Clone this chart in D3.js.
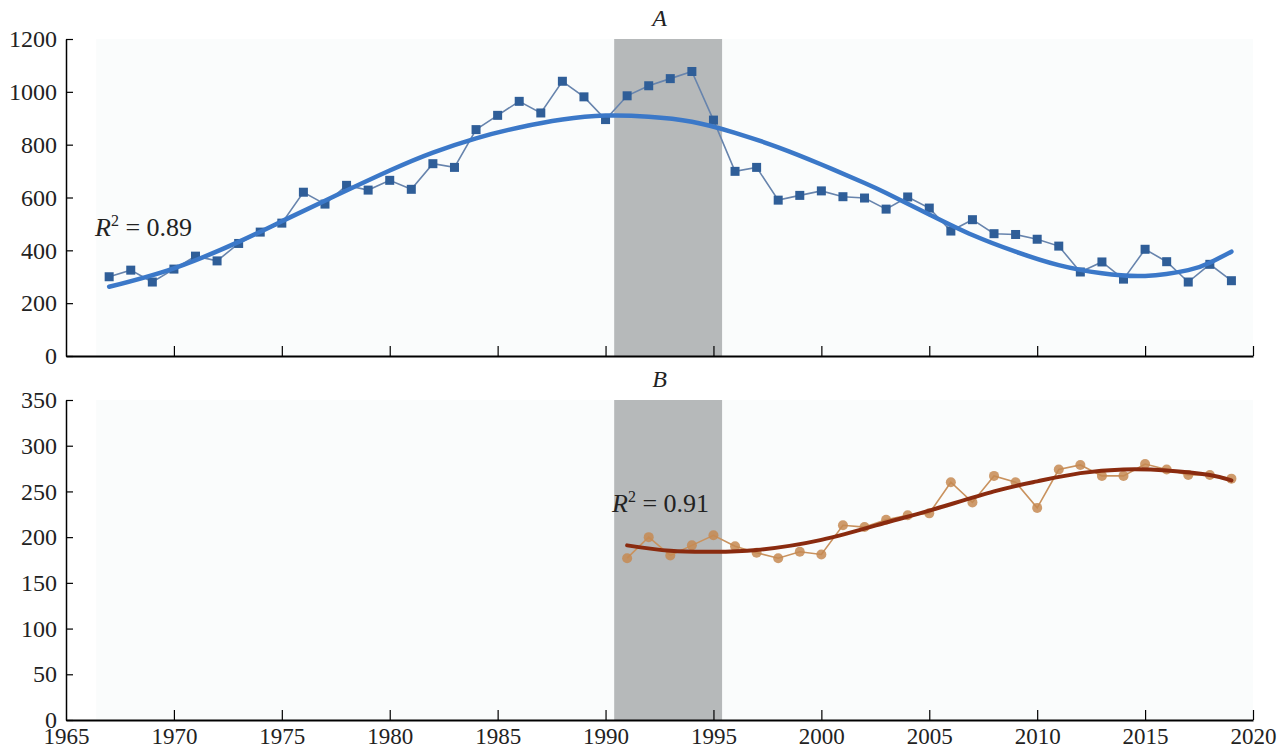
<!DOCTYPE html>
<html>
<head>
<meta charset="utf-8">
<script src="https://cdn.jsdelivr.net/npm/d3@7"></script>
<style>
  body { margin: 0; background: #fff; }
</style>
</head>
<body>
<div id="chart"></div>
<script>
// panel A: observed series, 1967-2019
const yearsA = [1967, 1968, 1969, 1970, 1971, 1972, 1973, 1974, 1975, 1976,
  1977, 1978, 1979, 1980, 1981, 1982, 1983, 1984, 1985, 1986,
  1987, 1988, 1989, 1990, 1991, 1992, 1993, 1994, 1995, 1996,
  1997, 1998, 1999, 2000, 2001, 2002, 2003, 2004, 2005, 2006,
  2007, 2008, 2009, 2010, 2011, 2012, 2013, 2014, 2015, 2016,
  2017, 2018, 2019];
const valuesA = [300, 325, 280, 329, 378, 360, 426, 469, 503, 620,
  575, 646, 628, 665, 631, 728, 714, 857, 911, 964,
  920, 1040, 981, 895, 985, 1023, 1050, 1077, 893, 699,
  714, 590, 608, 625, 603, 598, 556, 602, 560, 473,
  516, 463, 460, 442, 416, 318, 356, 291, 404, 357,
  280, 347, 285];
// panel A: fitted trend
const trendYearsA = [1967, 1970, 1973, 1975, 1977, 1980, 1982, 1984, 1986, 1988,
  1990, 1992, 1994, 1996, 1998, 2000, 2002, 2003, 2005, 2007,
  2009, 2011, 2013, 2015, 2017, 2018, 2019];
const trendA = [262, 332, 432, 510, 588, 702, 770, 824, 865, 895,
  910, 906, 887, 845, 790, 725, 655, 617, 536, 458,
  395, 344, 313, 303, 325, 353, 395];

// panel B: observed series, 1991-2019
const yearsB = [1991, 1992, 1993, 1994, 1995, 1996, 1997, 1998, 1999, 2000,
  2001, 2002, 2003, 2004, 2005, 2006, 2007, 2008, 2009, 2010,
  2011, 2012, 2013, 2014, 2015, 2016, 2017, 2018, 2019];
const valuesB = [177, 200, 180, 191, 202, 190, 183, 177, 184, 181,
  213, 211, 219, 224, 226, 260, 238, 267, 260, 232,
  274, 279, 267, 267, 280, 274, 268, 268, 264];
const trendYearsB = [1991, 1993, 1995, 1997, 2000, 2003, 2005, 2008, 2010, 2012,
  2014, 2016, 2018, 2019];
const trendB = [191, 185, 184, 186, 197, 216, 229, 250, 261, 270,
  274, 273, 268, 262];

const ticksA = [0, 200, 400, 600, 800, 1000, 1200];
const ticksB = [0, 50, 100, 150, 200, 250, 300, 350];
const yearTicks = [1965, 1970, 1975, 1980, 1985, 1990, 1995, 2000, 2005, 2010, 2015, 2020];
const shadeYears = [1990.4, 1995.4];

const width = 1288;
const height = 756;
const serif = '"Liberation Serif", "DejaVu Serif", serif';

const svg = d3.select('#chart')
  .append('svg')
  .attr('width', width)
  .attr('height', height)
  .style('font-family', serif);

const x = d3.scaleLinear().domain([1965, 2020]).range([66, 1253]);

const panels = [
  {
    title: 'A', top: 39, bottom: 356, max: 1200, ticks: ticksA,
    years: yearsA, values: valuesA, tYears: trendYearsA, trend: trendA,
    r2: '0.89', r2x: 95, r2y: 236, showYears: false
  },
  {
    title: 'B', top: 400, bottom: 720, max: 350, ticks: ticksB,
    years: yearsB, values: valuesB, tYears: trendYearsB, trend: trendB,
    r2: '0.91', r2x: 612, r2y: 512, showYears: true
  }
];

panels.forEach((p) => {
  const y = d3.scaleLinear().domain([0, p.max]).range([p.bottom, p.top]);
  const g = svg.append('g');

  // faint plot background
  g.append('rect')
    .attr('x', x(1966.4))
    .attr('y', p.top)
    .attr('width', x(2020) - x(1966.4))
    .attr('height', p.bottom - p.top)
    .style('fill', '#fafcfc');

  // shaded period
  g.append('rect')
    .attr('x', x(shadeYears[0]))
    .attr('y', p.top)
    .attr('width', x(shadeYears[1]) - x(shadeYears[0]))
    .attr('height', p.bottom - p.top)
    .style('fill', '#b6b9ba');

  // y axis
  const yAxis = g.append('g')
    .attr('transform', `translate(${x(1965)},0)`)
    .call(d3.axisLeft(y).tickValues(p.ticks).tickSizeInner(-7).tickSizeOuter(0)
      .tickPadding(9).tickFormat(d3.format('d')));
  yAxis.attr('font-family', serif).attr('font-size', 24);
  yAxis.select('.domain').style('stroke', '#000').style('stroke-width', 1.5);
  yAxis.selectAll('.tick line').style('stroke', '#000').style('stroke-width', 1.2);
  yAxis.selectAll('.tick text').style('fill', '#222');

  // x axis
  const xAxis = g.append('g')
    .attr('transform', `translate(0,${p.bottom})`)
    .call(d3.axisBottom(x).tickValues(yearTicks).tickSizeInner(-10).tickSizeOuter(0)
      .tickFormat(p.showYears ? d3.format('d') : () => '').tickPadding(8));
  xAxis.attr('font-family', serif).attr('font-size', 23);
  xAxis.select('.domain').style('stroke', '#000').style('stroke-width', 1.8);
  xAxis.selectAll('.tick line')
    .style('stroke', '#000')
    .style('stroke-width', 1.2)
    .style('display', (d) => (d === 1965 ? 'none' : null));
  xAxis.selectAll('.tick text').style('fill', '#222');

  // panel title
  svg.append('text')
    .attr('x', x(1992.5))
    .attr('y', p.top - 13)
    .attr('text-anchor', 'middle')
    .style('font-style', 'italic')
    .style('font-size', '24px')
    .style('fill', '#222')
    .text(p.title);

  const pts = p.years.map((yr, i) => [yr, p.values[i]]);
  const tpts = p.tYears.map((yr, i) => [yr, p.trend[i]]);
  const line = d3.line().x((d) => x(d[0])).y((d) => y(d[1]));
  const smooth = d3.line().x((d) => x(d[0])).y((d) => y(d[1])).curve(d3.curveNatural);

  if (p.title === 'A') {
    g.append('path')
      .attr('d', line(pts))
      .style('fill', 'none')
      .style('stroke', '#6784ad')
      .style('stroke-width', 1.6);
    g.selectAll('.sq')
      .data(pts)
      .enter()
      .append('rect')
      .attr('class', 'sq')
      .attr('x', (d) => x(d[0]) - 4.5)
      .attr('y', (d) => y(d[1]) - 4.5)
      .attr('width', 9)
      .attr('height', 9)
      .style('fill', '#2f5e98');
    g.append('path')
      .attr('d', smooth(tpts))
      .style('fill', 'none')
      .style('stroke', '#3b78c8')
      .style('stroke-width', 4.5)
      .style('stroke-linecap', 'round');
  } else {
    g.append('path')
      .attr('d', line(pts))
      .style('fill', 'none')
      .style('stroke', '#c9925e')
      .style('stroke-width', 1.6);
    g.selectAll('.dot')
      .data(pts)
      .enter()
      .append('circle')
      .attr('class', 'dot')
      .attr('cx', (d) => x(d[0]))
      .attr('cy', (d) => y(d[1]))
      .attr('r', 5)
      .style('fill', '#c58a52')
      .style('opacity', 0.85);
    g.append('path')
      .attr('d', smooth(tpts))
      .style('fill', 'none')
      .style('stroke', '#8a2b0f')
      .style('stroke-width', 4)
      .style('stroke-linecap', 'round');
  }

  // R squared label
  const lab = svg.append('text')
    .attr('x', p.r2x)
    .attr('y', p.r2y)
    .style('font-size', '26px')
    .style('fill', '#222');
  lab.append('tspan').style('font-style', 'italic').text('R');
  lab.append('tspan').attr('dy', -10).style('font-size', '16px').text('2');
  lab.append('tspan').attr('dy', 10).text(' = ' + p.r2);
});
</script>
</body>
</html>
